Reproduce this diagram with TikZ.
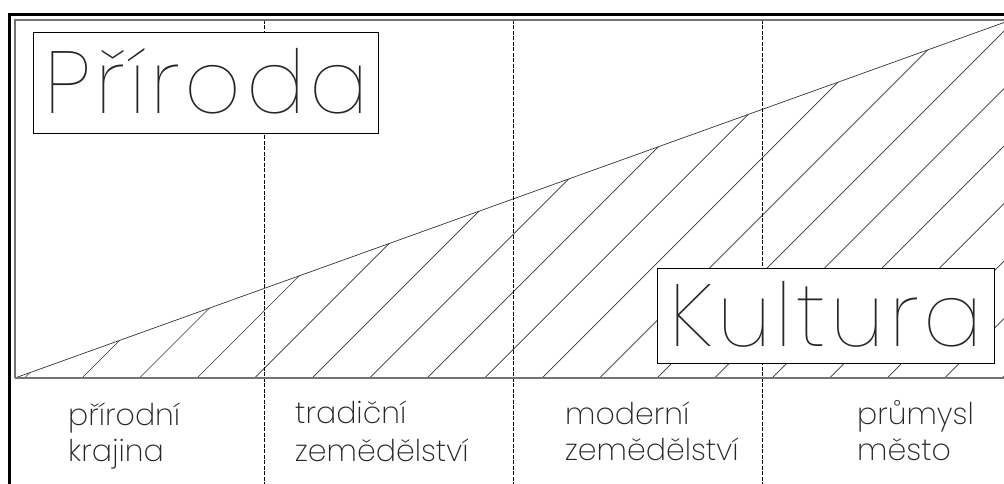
\documentclass[tikz,border=0pt]{standalone}
\usepackage{fontspec}
\IfFontExistsTF{Poppins Thin}{\newfontfamily\cadbig{Poppins Thin}[LetterSpace=5]}{%
  \newfontfamily\cadbig{Poppins}[LetterSpace=5]}
\IfFontExistsTF{Poppins ExtraLight}{\newfontfamily\cad{Poppins ExtraLight}}{%
  \IfFontExistsTF{Poppins Thin}{\newfontfamily\cad{Poppins Thin}}{\newfontfamily\cad{Poppins}}}
\begin{document}
\begin{tikzpicture}[x=1pt,y=-1pt,
  frame/.style={line width=3pt, black},
  edge/.style={line width=1.3pt, black!55},
  hatch/.style={line width=0.7pt, black!80},
  divider/.style={line width=0.7pt, black, dash pattern=on 4pt off 1.5pt},
  box/.style={draw=black, fill=white, line width=0.9pt, anchor=north west, inner sep=0pt},
  big/.style={font=\cadbig\fontsize{88}{88}\selectfont, inner sep=0pt, text=black!85},
  small/.style={font=\cad\fontsize{30}{37}\selectfont, inner sep=0pt, text=black!85, anchor=base west}
]
\useasboundingbox (0,0) rectangle (1004,484);
\clip (0,0) rectangle (1004,484);
\coordinate (A) at (15,378);
\coordinate (B) at (1011,378);
\coordinate (C) at (1011,20);
\coordinate (TL) at (15,20);
\coordinate (FB) at (9.5,484);
\coordinate (FT) at (9.5,14.5);
\coordinate (FR) at (1011,14.5);
% hatching
\begin{scope}
  \clip (A) -- (B) -- (C) -- cycle;
  \foreach \k in {0,...,17} {
    \coordinate (h\k) at ({24.5+57.5*\k},378);
    \draw[hatch] (h\k) -- ++(420,-420);
  }
\end{scope}
\draw[hatch] (A) -- (C);
% dividers
\foreach \x [count=\i] in {264,513,762} {
  \coordinate (dt\i) at (\x,20);
  \coordinate (db\i) at (\x,484);
  \draw[divider] (dt\i) -- (db\i);
}
% inner frame and baseline
\draw[edge] (A) -- (TL) -- (C);
\draw[edge] (A) -- (B);
% outer frame
\draw[frame] (FB) -- (FT) -- (FR);
% boxes
\node[box, minimum width=345pt, minimum height=101.6pt] (pbox) at (33.3,31.7) {};
\node[box, minimum width=336.7pt, minimum height=95pt] (kbox) at (657.3,268.3) {};
\node[big, anchor=base] (priroda) at (206.5,113.3) {Příroda};
\node[big, anchor=base] (kultura) at (825.9,346.7) {Kultura};
% labels
\node[small] (l1a) at (68,425) {přírodní};
\node[small] (l1b) at (68,461.7) {krajina};
\node[small] (l2a) at (295,423.5) {tradiční};
\node[small] (l2b) at (295,461) {zemědělství};
\node[small] (l3a) at (565,424) {moderní};
\node[small] (l3b) at (565,460.7) {zemědělství};
\node[small] (l4a) at (857,424) {průmysl};
\node[small] (l4b) at (857,460.7) {město};
\end{tikzpicture}
\end{document}
